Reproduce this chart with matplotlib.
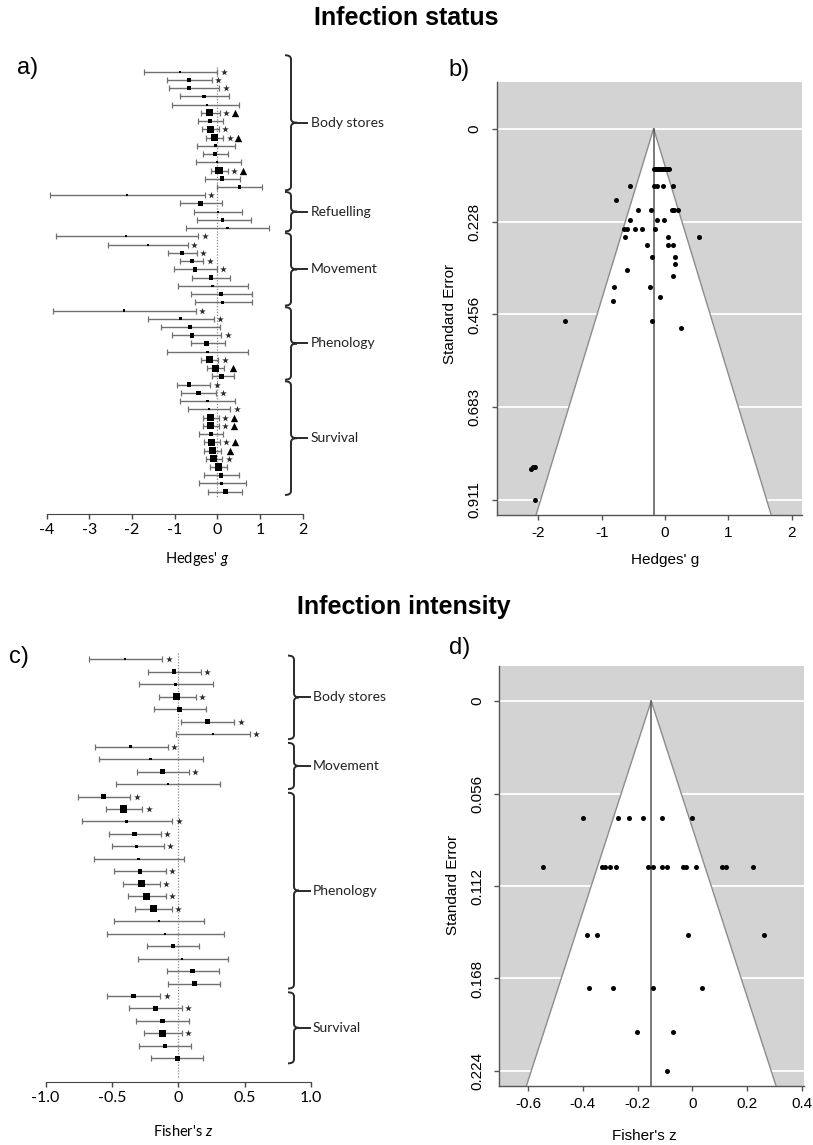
import matplotlib
matplotlib.use("Agg")
import matplotlib.pyplot as plt
from matplotlib.path import Path
from matplotlib.patches import PathPatch, Polygon

plt.rcParams['font.family'] = ['Liberation Sans', 'DejaVu Sans']
plt.rcParams['mathtext.fontset'] = 'custom'
plt.rcParams['mathtext.it'] = 'Lato:italic'
plt.rcParams['mathtext.rm'] = 'Lato'
plt.rcParams['axes.unicode_minus'] = False

# ---------------- Panel a: Infection status (Hedges' g) ----------------
status_groups = ["Body stores", "Refuelling", "Movement", "Phenology", "Survival"]
status_sizes = [15, 5, 9, 9, 14]
status_est = [-0.87, -0.66, -0.66, -0.31, -0.25, -0.19, -0.17, -0.16, -0.07, -0.04, -0.05, 0.00, 0.04, 0.11, 0.52,
              -2.12, -0.40, 0.02, 0.13, 0.24,
              -2.13, -1.63, -0.83, -0.59, -0.52, -0.15, -0.11, 0.09, 0.12,
              -2.18, -0.87, -0.64, -0.59, -0.25, -0.23, -0.19, -0.04, 0.10,
              -0.66, -0.44, -0.23, -0.19, -0.16, -0.16, -0.15, -0.125, -0.11, -0.09, 0.02, 0.09, 0.10, 0.19]
status_lo = [-1.72, -1.17, -1.13, -0.87, -1.05, -0.375, -0.45, -0.35, -0.27, -0.48, -0.33, -0.50, -0.15, -0.29, 0.00,
             -3.93, -0.875, -0.54, -0.48, -0.74,
             -3.79, -2.55, -1.16, -0.87, -1.02, -0.59, -0.93, -0.625, -0.52,
             -3.86, -1.625, -1.32, -1.05, -0.625, -1.17, -0.375, -0.23, -0.125,
             -0.95, -0.84, -0.87, -0.68, -0.34, -0.34, -0.43, -0.31, -0.31, -0.27, -0.17, -0.30, -0.43, -0.22]
status_hi = [0.00, -0.125, 0.05, 0.27, 0.52, 0.06, 0.125, 0.03, 0.14, 0.42, 0.25, 0.55, 0.24, 0.53, 1.05,
             -0.29, 0.11, 0.59, 0.78, 1.22,
             -0.45, -0.69, -0.48, -0.33, -0.01, 0.30, 0.72, 0.82, 0.82,
             -0.50, -0.08, 0.06, 0.09, 0.17, 0.71, 0.02, 0.16, 0.39,
             -0.17, -0.02, 0.41, 0.30, 0.04, 0.04, 0.14, 0.06, 0.09, 0.12, 0.22, 0.50, 0.67, 0.59]
status_wt = [1, 3, 3, 2, 1, 4, 3, 4, 4, 2, 3, 1, 4, 3, 2,
             1, 3, 1, 2, 1,
             1, 1, 3, 3, 3, 3, 1, 2, 2,
             1, 2, 2, 3, 3, 1, 4, 4, 3,
             3, 3, 1, 1, 4, 4, 3, 4, 4, 4, 4, 3, 2, 3]
status_star = [1, 1, 1, 0, 0, 1, 0, 1, 1, 0, 0, 0, 1, 0, 0,
               1, 0, 0, 0, 0,
               1, 1, 1, 1, 1, 0, 0, 0, 0,
               1, 1, 0, 1, 0, 0, 1, 0, 0,
               1, 1, 0, 1, 1, 1, 0, 1, 0, 1, 0, 0, 0, 0]
status_tri = [0, 0, 0, 0, 0, 1, 0, 0, 1, 0, 0, 0, 1, 0, 0,
              0, 0, 0, 0, 0,
              0, 0, 0, 0, 0, 0, 0, 0, 0,
              0, 0, 0, 0, 0, 0, 0, 1, 0,
              0, 0, 0, 0, 1, 1, 0, 1, 1, 0, 0, 0, 0, 0]
status_xticks = [-4, -3, -2, -1, 0, 1, 2]
status_xticklabels = ["-4", "-3", "-2", "-1", "0", "1", "2"]

# ---------------- Panel b: funnel, infection status ----------------
funnel_b_est = [-0.17, -0.15, -0.13, -0.11, -0.09, -0.06, -0.03, 0.00, 0.02, 0.05, 0.07,
                -0.56, -0.17, -0.12, -0.03, 0.12,
                -0.78,
                -0.42, -0.22, 0.105, 0.14, 0.21,
                -0.56, -0.12, -0.02,
                -0.65, -0.60, -0.48, -0.36, -0.16,
                -0.63, 0.04, 0.53,
                -0.28, 0.04, 0.12,
                -0.21, 0.16,
                0.16,
                -0.60,
                0.12,
                -0.81, -0.24,
                -0.08,
                -0.82,
                -1.58, -0.20,
                0.25,
                -2.09, -2.06, -2.12,
                -2.06]
funnel_b_se = [0.100, 0.100, 0.100, 0.100, 0.100, 0.100, 0.100, 0.100, 0.100, 0.100, 0.100,
               0.142, 0.142, 0.142, 0.142, 0.142,
               0.175,
               0.200, 0.200, 0.200, 0.200, 0.200,
               0.225, 0.225, 0.225,
               0.246, 0.246, 0.246, 0.246, 0.246,
               0.266, 0.266, 0.266,
               0.285, 0.285, 0.285,
               0.316, 0.316,
               0.333,
               0.347,
               0.361,
               0.389, 0.389,
               0.413,
               0.424,
               0.471, 0.471,
               0.490,
               0.831, 0.831, 0.836,
               0.911]
funnel_b_center = -0.18
funnel_b_yticks = [0, 0.228, 0.456, 0.683, 0.911]
funnel_b_yticklabels = ["0", "0.228", "0.456", "0.683", "0.911"]
funnel_b_xticks = [-2, -1, 0, 1, 2]
funnel_b_xticklabels = ["-2", "-1", "0", "1", "2"]

# ---------------- Panel c: Infection intensity (Fisher's z) ----------------
intensity_groups = ["Body stores", "Movement", "Phenology", "Survival"]
intensity_sizes = [7, 4, 16, 6]
intensity_est = [-0.40, -0.033, -0.02, -0.01, 0.01, 0.219, 0.259,
                 -0.36, -0.209, -0.12, -0.08,
                 -0.563, -0.41, -0.389, -0.332, -0.312, -0.299, -0.289, -0.279, -0.239, -0.188, -0.148,
                 -0.103, -0.04, 0.03, 0.108, 0.121,
                 -0.339, -0.171, -0.118, -0.118, -0.10, -0.008]
intensity_lo = [-0.673, -0.229, -0.296, -0.146, -0.186, 0.023, -0.015,
                -0.63, -0.598, -0.314, -0.472,
                -0.756, -0.545, -0.729, -0.523, -0.503, -0.638, -0.482, -0.417, -0.379, -0.327, -0.485,
                -0.54, -0.236, -0.304, -0.085, -0.075,
                -0.538, -0.369, -0.319, -0.256, -0.296, -0.204]
intensity_hi = [-0.12, 0.168, 0.259, 0.131, 0.209, 0.422, 0.538,
                -0.08, 0.183, 0.078, 0.314,
                -0.362, -0.271, -0.045, -0.131, -0.111, 0.043, -0.093, -0.138, -0.095, -0.048, 0.193,
                0.342, 0.158, 0.372, 0.307, 0.317,
                -0.136, 0.025, 0.078, 0.025, 0.098, 0.186]
intensity_wt = [1, 3, 2, 4, 3, 3, 1,
                2, 1, 3, 1,
                3, 4, 2, 3, 2, 1, 3, 4, 4, 4, 1, 1, 3, 1, 3, 3,
                3, 3, 3, 4, 3, 3]
intensity_star = [1, 1, 0, 1, 0, 1, 1,
                  1, 0, 1, 0,
                  1, 1, 1, 1, 1, 0, 1, 1, 1, 1, 0, 0, 0, 0, 0, 0,
                  1, 1, 0, 1, 0, 0]
intensity_tri = [0] * 33
intensity_xticks = [-1.0, -0.5, 0, 0.5, 1.0]
intensity_xticklabels = ["-1.0", "-0.5", "0", "0.5", "1.0"]

# ---------------- Panel d: funnel, infection intensity ----------------
funnel_d_est = [-0.40, -0.27, -0.23, -0.18, -0.11, 0.00,
                -0.546, -0.329, -0.32, -0.30, -0.278, -0.163, -0.144, -0.111, -0.091, -0.034, -0.024, 0.015,
                0.11, 0.124, 0.223,
                -0.386, -0.348, -0.015, 0.262,
                -0.377, -0.29, -0.143, 0.035,
                -0.201, -0.072,
                -0.093]
funnel_d_se = [0.0708, 0.0708, 0.0708, 0.0708, 0.0708, 0.0708,
               0.1005, 0.1005, 0.1005, 0.1005, 0.1005, 0.1005, 0.1005, 0.1005, 0.1005, 0.1005, 0.1005, 0.1005,
               0.1005, 0.1005, 0.1005,
               0.1417, 0.1417, 0.1417, 0.1417,
               0.1736, 0.1736, 0.1736, 0.1736,
               0.2004, 0.2004,
               0.224]
funnel_d_center = -0.15
funnel_d_yticks = [0, 0.056, 0.112, 0.168, 0.224]
funnel_d_yticklabels = ["0", "0.056", "0.112", "0.168", "0.224"]
funnel_d_xticks = [-0.6, -0.4, -0.2, 0, 0.2, 0.4]
funnel_d_xticklabels = ["-0.6", "-0.4", "-0.2", "0", "0.2", "0.4"]

# ======================= drawing =======================
W, H = 813, 1145
fig = plt.figure(figsize=(W / 100, H / 100), dpi=100)


def px_axes(l, t, r, b):
    return fig.add_axes([l / W, 1 - b / H, (r - l) / W, (b - t) / H])


def ftext(x, y, s, **kw):
    fig.text(x / W, 1 - y / H, s, **kw)


def draw_forest(ax, est, lo, hi, wt, star, tri, groups, sizes, l_px, r_px, xlim, ylim,
                row_px, br_px, label_px, pad_top, pad_bot, first_extra, zero_span,
                xticks, xticklabels):
    n = len(est)
    y = list(range(n))
    ax.set_xlim(*xlim)
    ax.set_ylim(*ylim)
    ax.patch.set_visible(False)
    dpx = (xlim[1] - xlim[0]) / (r_px - l_px)

    def px2x(p):
        return xlim[0] + (p - l_px) * dpx

    ax.plot([0, 0], zero_span, ls=(0, (1, 1.3)), color='#8a8a8a', lw=0.9, zorder=1)
    err_lo = [e - a for e, a in zip(est, lo)]
    err_hi = [b - e for e, b in zip(est, hi)]
    ax.errorbar(est, y, xerr=[err_lo, err_hi], fmt='none', ecolor='#707070',
                elinewidth=1.0, capsize=1.9, capthick=0.9, zorder=2)
    smap = {1: 2.5, 2: 5.5, 3: 11, 4: 26}
    ax.scatter(est, y, s=[smap[w] for w in wt], marker='s', color='black',
               zorder=3, linewidths=0)
    for i in range(n):
        if star[i]:
            ax.scatter(hi[i] + 6.5 * dpx, i, marker='*', s=26, color='#2a2a2a',
                       zorder=3, linewidths=0)
        if tri[i]:
            off = 15 if star[i] else 9
            ax.scatter(hi[i] + off * dpx, i, marker='^', s=28, color='black',
                       zorder=3, linewidths=0)
    # brackets
    x0, x1, x2, x3 = [px2x(p) for p in br_px]
    r = 4.0 / row_px
    start = 0
    for gi, (g, sz) in enumerate(zip(groups, sizes)):
        y0 = start - pad_top - (first_extra if gi == 0 else 0)
        y1 = start + sz - 1 + pad_bot
        ym = (y0 + y1) / 2
        verts = [(x0, y0), (x1, y0), (x1, y0 + r),
                 (x1, ym - r), (x1, ym), (x2, ym),
                 (x1, ym), (x1, ym + r),
                 (x1, y1 - r), (x1, y1), (x0, y1)]
        codes = [Path.MOVETO, Path.CURVE3, Path.CURVE3,
                 Path.LINETO, Path.CURVE3, Path.CURVE3,
                 Path.CURVE3, Path.CURVE3,
                 Path.LINETO, Path.CURVE3, Path.CURVE3]
        ax.add_patch(PathPatch(Path(verts, codes), facecolor='none', edgecolor='#2a2a2a',
                               lw=1.4, zorder=2, clip_on=False))
        ax.plot([x2, x3], [ym, ym], color='#2a2a2a', lw=1.4, zorder=2, clip_on=False)
        ax.text(px2x(label_px), ym, g, fontsize=10, family=['Lato', 'DejaVu Sans'],
                va='center', ha='left', color='#222')
        start += sz
    for s in ['left', 'top', 'right']:
        ax.spines[s].set_visible(False)
    ax.spines['bottom'].set_bounds(xticks[0], xticks[-1])
    ax.spines['bottom'].set_color('#444')
    ax.set_yticks([])
    ax.set_xticks(xticks)
    ax.set_xticklabels(xticklabels, family=['Lato', 'DejaVu Sans'])
    ax.tick_params(axis='x', length=3.8, width=1, color='#444', labelsize=11.5, pad=3)


def draw_funnel(ax, est, se, center, xlim, ylim, xticks, xtl, yticks, ytl):
    ax.set_facecolor('#d3d3d3')
    ax.set_xlim(*xlim)
    ax.set_ylim(*ylim)
    for t in yticks:
        ax.axhline(t, color='white', lw=1.3, zorder=1)
    ybot = ylim[0]
    tri = [[center - 1.96 * ybot, ybot], [center, 0], [center + 1.96 * ybot, ybot]]
    ax.add_patch(Polygon(tri, closed=True, facecolor='white', edgecolor='none', zorder=2))
    ax.plot([p[0] for p in tri], [p[1] for p in tri], color='#8c8c8c', lw=1.0, zorder=3)
    ax.plot([center, center], [0, ybot], color='#555555', lw=1.1, zorder=3)
    ax.scatter(est, se, s=13, color='black', zorder=4, linewidths=0)
    for s in ['top', 'right']:
        ax.spines[s].set_visible(False)
    for s in ['left', 'bottom']:
        ax.spines[s].set_color('#555555')
        ax.spines[s].set_linewidth(1.0)
    ax.set_xticks(xticks)
    ax.set_xticklabels(xtl)
    ax.set_yticks(yticks)
    ax.set_yticklabels(ytl, rotation=90, va='center')
    ax.tick_params(axis='both', length=3.8, width=1, color='#555555', labelsize=11)
    ax.tick_params(axis='x', pad=4)
    ax.tick_params(axis='y', pad=7)


# Panel a
ax_a = px_axes(40, 50, 400, 514)
draw_forest(ax_a, status_est, status_lo, status_hi, status_wt, status_star, status_tri,
            status_groups, status_sizes, 40, 400, (-4.155, 4.283), (53.71, -2.635),
            8.235, (285, 291, 297, 307), 311, 0.4, 0.4, 1.6, (-0.6, 51.6),
            status_xticks, status_xticklabels)

# Panel c
ax_c = px_axes(40, 640, 400, 1081.7)
draw_forest(ax_c, intensity_est, intensity_lo, intensity_hi, intensity_wt, intensity_star,
            intensity_tri, intensity_groups, intensity_sizes, 40, 400, (-1.042, 1.671),
            (33.87, -1.55), 12.47, (288, 294, 299, 310), 313, 0.3, 0.4, 0.0, (-0.5, 33.5),
            intensity_xticks, intensity_xticklabels)

# Panel b
ax_b = px_axes(496.7, 81.7, 801.7, 515)
draw_funnel(ax_b, funnel_b_est, funnel_b_se, funnel_b_center, (-2.66, 2.16), (0.948, -0.115),
            funnel_b_xticks, funnel_b_xticklabels, funnel_b_yticks, funnel_b_yticklabels)

# Panel d
ax_d = px_axes(499, 665.7, 804, 1086)
draw_funnel(ax_d, funnel_d_est, funnel_d_se, funnel_d_center, (-0.707, 0.409), (0.2331, -0.0214),
            funnel_d_xticks, funnel_d_xticklabels, funnel_d_yticks, funnel_d_yticklabels)

# Texts
ftext(406, 18, "Infection status", fontsize=18, fontweight='bold', ha='center', va='center')
ftext(404, 607, "Infection intensity", fontsize=18, fontweight='bold', ha='center', va='center')
ftext(28, 68, "a)", fontsize=17, ha='center', va='center')
ftext(459, 70, "b)", fontsize=17, ha='center', va='center')
ftext(19, 657, "c)", fontsize=17, ha='center', va='center')
ftext(460, 648, "d)", fontsize=17, ha='center', va='center')

ftext(197, 559, r"Hedges' $\it{g}$", fontsize=10.5, family=['Lato', 'DejaVu Sans'],
      ha='center', va='center')
ftext(183, 1131, r"Fisher's $\it{z}$", fontsize=10.5, family=['Lato', 'DejaVu Sans'],
      ha='center', va='center')
ftext(665, 560, "Hedges' g", fontsize=11, ha='center', va='center')
ftext(644, 1136, "Fisher's z", fontsize=11, ha='center', va='center')
ftext(450, 314, "Standard Error", fontsize=11, rotation=90, ha='center', va='center')
ftext(453, 885, "Standard Error", fontsize=11, rotation=90, ha='center', va='center')

fig.savefig("out.png", dpi=100, facecolor='white')
